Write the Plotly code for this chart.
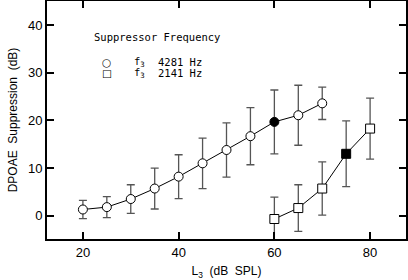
import plotly.graph_objects as go

# Data
x_circ = [20, 25, 30, 35, 40, 45, 50, 55, 60, 65, 70]
y_circ = [1.3, 1.8, 3.5, 5.7, 8.2, 11.0, 13.8, 16.7, 19.7, 21.1, 23.6]
e_circ = [1.9, 2.2, 3.0, 4.3, 4.6, 5.3, 5.7, 6.0, 6.7, 6.3, 3.4]
fill_circ = [False]*8 + [True] + [False]*2

x_sq = [60, 65, 70, 75, 80]
y_sq = [-0.7, 1.6, 5.7, 13.0, 18.3]
e_sq = [4.6, 4.9, 5.6, 6.9, 6.4]
fill_sq = [False, False, False, True, False]

x_ticks = [20, 40, 60, 80]
y_ticks = [0, 10, 20, 30, 40]

legend_title = "Suppressor Frequency"
legend_freqs = ["4281 Hz", "2141 Hz"]
legend_syms = ["○", "□"]

FONT = "Liberation Sans, Arial, sans-serif"
ERR_COLOR = "#555555"

fig = go.Figure()

def add_series(x, y, e, fill, symbol):
    fig.add_trace(go.Scatter(
        x=x, y=y, mode="lines+markers",
        line=dict(color="black", width=1),
        marker=dict(symbol=symbol, size=9,
                    color=["black" if f else "white" for f in fill],
                    line=dict(color="black", width=1)),
        error_y=dict(type="data", array=e, visible=True,
                     color=ERR_COLOR, thickness=1.3, width=4),
        showlegend=False, cliponaxis=True,
    ))

add_series(x_circ, y_circ, e_circ, fill_circ, "circle")
add_series(x_sq, y_sq, e_sq, fill_sq, "square")

axis_common = dict(
    showline=True, linecolor="black", linewidth=2, mirror="ticks",
    ticks="inside", ticklen=7, tickwidth=1.5, tickcolor="black",
    showgrid=False, zeroline=False, automargin=False,
    tickfont=dict(family=FONT, size=13, color="black"),
)

fig.update_xaxes(range=[12.5, 87.5], tickvals=x_ticks,
                 title=dict(text="L<sub>3</sub>  (dB  SPL)", font=dict(family=FONT, size=12, color="black"), standoff=8),
                 **axis_common)
fig.update_yaxes(range=[-4.9, 45.1], tickvals=y_ticks,
                 title=dict(text="DPOAE  Suppression  (dB)", font=dict(family=FONT, size=12, color="black"), standoff=8),
                 **axis_common)

# Legend-like annotations
LFONT = dict(family="DejaVu Sans Mono, monospace", size=10.5, color="black")
SFONT = dict(family="DejaVu Sans, sans-serif", size=10.5, color="black")
fig.add_annotation(x=0.126, y=0.849, xref="paper", yref="paper", xanchor="left", yanchor="middle",
                   text=legend_title, showarrow=False, font=LFONT)
for i, (sym, fr) in enumerate(zip(legend_syms, legend_freqs)):
    yy = 0.742 - i * 0.046
    fig.add_annotation(x=0.167, y=yy, xref="paper", yref="paper", xanchor="center", yanchor="middle",
                       text=sym, showarrow=False, font=SFONT)
    fig.add_annotation(x=0.236, y=yy, xref="paper", yref="paper", xanchor="left", yanchor="middle",
                       text="f<sub>3</sub>", showarrow=False, font=LFONT)
    fig.add_annotation(x=0.304, y=yy, xref="paper", yref="paper", xanchor="left", yanchor="middle",
                       text=fr, showarrow=False, font=LFONT)

fig.update_layout(
    width=408, height=280,
    margin=dict(l=47, r=2, t=1, b=41),
    paper_bgcolor="white", plot_bgcolor="white",
)

fig.write_html("out.html", config={"displayModeBar": False})

# remove default page margin so the figure sits at the top-left corner
with open("out.html", "r", encoding="utf-8") as f:
    html = f.read()
html = html.replace("<head>", "<head><style>html,body{margin:0;padding:0;overflow:hidden;}</style>", 1)
with open("out.html", "w", encoding="utf-8") as f:
    f.write(html)
